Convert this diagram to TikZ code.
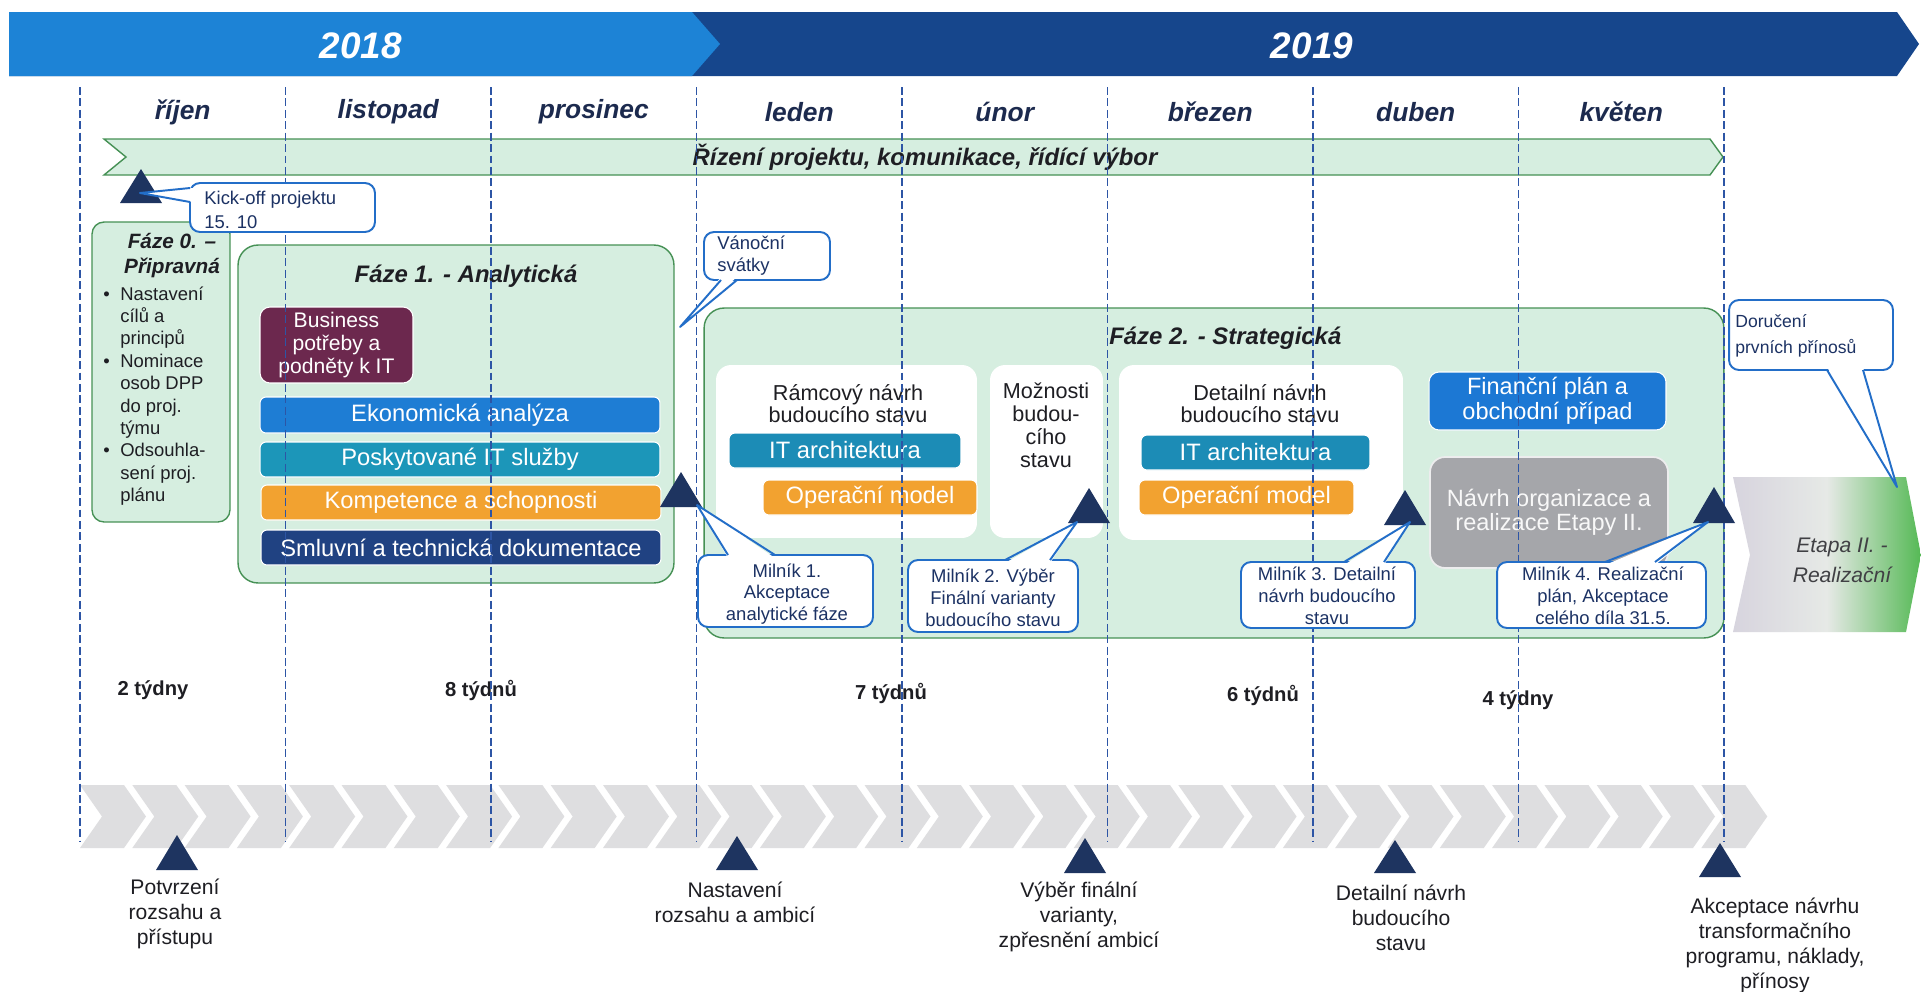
\documentclass[tikz,border=0pt]{standalone}
\usepackage{fontspec}
\setmainfont{Liberation Sans}
\usetikzlibrary{calc}
\definecolor{yearlight}{RGB}{29,131,214}
\definecolor{yeardark}{RGB}{22,70,140}
\definecolor{navy}{RGB}{30,52,96}
\definecolor{monthc}{RGB}{28,42,78}
\definecolor{dashc}{RGB}{45,85,165}
\definecolor{mint}{RGB}{214,238,224}
\definecolor{mintedge}{RGB}{70,145,85}
\definecolor{callblue}{RGB}{35,110,200}
\definecolor{calltext}{RGB}{28,50,100}
\definecolor{ekon}{RGB}{30,125,212}
\definecolor{posk}{RGB}{28,150,185}
\definecolor{komp}{RGB}{242,162,48}
\definecolor{smlu}{RGB}{32,66,130}
\definecolor{busi}{RGB}{108,40,78}
\definecolor{itarch}{RGB}{28,140,182}
\definecolor{fin}{RGB}{28,120,212}
\definecolor{org}{RGB}{165,166,170}
\definecolor{chev}{RGB}{222,222,224}
\definecolor{txt}{RGB}{30,30,35}
\definecolor{etgreen}{RGB}{85,185,85}
\definecolor{etgray}{RGB}{215,212,222}
\definecolor{etmid}{RGB}{230,233,230}
\newcommand\mstri[4]{%
  \fill[tri] (#2-21,#3) -- (#2,#3-#4) -- (#2+21,#3) -- cycle;
  \coordinate (#1) at (#2,#3-#4/2);}
\begin{document}
\begin{tikzpicture}[x=0.02cm,y=-0.02cm,
  yeartxt/.style={text=white, font=\fontsize{21}{25}\selectfont\bfseries\itshape, inner sep=0},
  monthtxt/.style={text=monthc, font=\fontsize{15}{18}\selectfont\bfseries\itshape, inner sep=0},
  dashline/.style={draw=dashc, line width=0.6pt, dash pattern=on 4.5pt off 2pt},
  tri/.style={fill=navy},
  phasebox/.style={draw=mintedge, fill=mint, line width=0.8pt, inner sep=0},
  whitebox/.style={fill=white, rounded corners=0.3cm, inner sep=0},
  bar/.style={draw=white, line width=0.6pt, rounded corners=0.12cm, text=white, font=\fontsize{13.5}{16}\selectfont, inner sep=0},
  callbox/.style={draw=callblue, fill=white, line width=1.1pt, rounded corners=0.2cm, inner sep=0, outer sep=0},
  callline/.style={draw=callblue, line width=1.1pt, line join=round},
  calltxt/.style={text=calltext, font=\fontsize{10.5}{12.4}\selectfont, inner sep=0, align=center},
  titletxt/.style={text=txt, font=\fontsize{13.6}{16}\selectfont\bfseries\itshape, inner sep=0},
  weektxt/.style={text=txt, font=\fontsize{11.5}{14}\selectfont\bfseries, inner sep=0},
  bottxt/.style={text=txt, font=\fontsize{12}{14.2}\selectfont, inner sep=0, align=center},
  boxtxt/.style={text=txt, font=\fontsize{12.3}{12.6}\selectfont, inner sep=0, align=center}]
\useasboundingbox (0,0) rectangle (1921,991);
\fill[white] (0,0) rectangle (1921,991);

% year bar
\fill[yeardark] (9,12) -- (1897,12) -- (1919,44) -- (1897,76) -- (9,76) -- cycle;
\fill[yearlight] (9,12) -- (692,12) -- (720,44) -- (692,76) -- (9,76) -- cycle;
\node[yeartxt] (y2018) at (361,46) {2018};
\node[yeartxt] (y2019) at (1312,46) {2019};

% months
\foreach \name [count=\i from 0] in {říjen,listopad,prosinec,leden,únor,březen,duben,květen}
  \node[monthtxt] (mon\i) at ({182.75+205.5*\i},112) {\name};

% project management bar
\draw[draw=mintedge, fill=mint, line width=0.8pt] (104,139) -- (1710,139) -- (1723,157) -- (1710,175) -- (104,175) -- (126,157) -- cycle;
\node[titletxt] (ctrl) at (925,157) {Řízení projektu, komunikace, řídící výbor};

% Faze 0
\node[phasebox, rounded corners=0.24cm, minimum width=2.76cm, minimum height=6cm] (f0) at (161,372) {};
\node[text=txt, font=\fontsize{11.8}{14.2}\selectfont\bfseries\itshape, align=center, inner sep=0] (f0t) at (172,256) {Fáze 0. –\\Připravná};
\node[anchor=north west, inner sep=0, text=txt, font=\fontsize{10.5}{12.76}\selectfont] (f0l) at (103,284)
 {\begin{tabular}[t]{@{}l@{\hspace{6pt}}l@{}}\textbullet & Nastavení\\ & cílů a\\ & principů\\ \textbullet & Nominace\\ & osob DPP\\ & do proj.\\ & týmu\\ \textbullet & Odsouhla-\\ & sení proj.\\ & plánu\end{tabular}};

% Faze 1
\node[phasebox, rounded corners=0.4cm, minimum width=8.72cm, minimum height=6.76cm] (f1) at (456,414) {};
\node[titletxt] (f1t) at (466,276) {Fáze 1. - Analytická};
\node[bar, fill=busi, rounded corners=0.2cm, minimum width=3.06cm, minimum height=1.52cm, font=\fontsize{12}{13.3}\selectfont, align=center] (busi) at (336.5,345) {Business\\potřeby a\\podněty k IT};
\node[bar, fill=ekon, minimum width=8cm, minimum height=0.72cm] (ekon) at (460,415) {Ekonomická analýza};
\node[bar, fill=posk, minimum width=8cm, minimum height=0.70cm] (posk) at (460,459.5) {Poskytované IT služby};
\node[bar, fill=komp, minimum width=8cm, minimum height=0.70cm] (komp) at (461,502.5) {Kompetence a schopnosti};
\node[bar, fill=smlu, minimum width=8cm, minimum height=0.70cm] (smlu) at (461,547.5) {Smluvní a technická dokumentace};

% Faze 2
\node[phasebox, rounded corners=0.4cm, minimum width=20.4cm, minimum height=6.6cm] (f2) at (1214,473) {};
\node[titletxt, anchor=west] (f2t) at (1109,338) {Fáze 2. - Strategická};
\node[whitebox, minimum width=5.22cm, minimum height=3.46cm] (ram) at (846.5,451.5) {};
\node[boxtxt] (ramt) at (848,404) {Rámcový návrh\\budoucího stavu};
\node[bar, fill=itarch, minimum width=4.64cm, minimum height=0.70cm] (it1) at (845,450.5) {IT architektura};
\node[bar, fill=komp, minimum width=4.28cm, minimum height=0.70cm] (op1) at (870,497.5) {Operační model};
\node[whitebox, minimum width=2.26cm, minimum height=3.46cm] (moz) at (1046.5,451.5) {};
\node[boxtxt, font=\fontsize{12.3}{13}\selectfont] (mozt) at (1046,425) {Možnosti\\budou-\\cího\\stavu};
\node[whitebox, minimum width=5.68cm, minimum height=3.5cm] (det) at (1261,452.5) {};
\node[boxtxt] (dett) at (1260,404) {Detailní návrh\\budoucího stavu};
\node[bar, fill=itarch, minimum width=4.58cm, minimum height=0.70cm] (it2) at (1255.5,452.5) {IT architektura};
\node[bar, fill=komp, minimum width=4.3cm, minimum height=0.70cm] (op2) at (1246.5,497.5) {Operační model};
\node[bar, fill=fin, rounded corners=0.2cm, minimum width=4.74cm, minimum height=1.16cm, font=\fontsize{13.4}{14.2}\selectfont, align=center] (fin) at (1547.5,401) {Finanční plán a\\obchodní případ};
\node[bar, fill=org, draw=white!80!org, line width=1pt, rounded corners=0.3cm, minimum width=4.76cm, minimum height=2.22cm, text=white!92!org, font=\fontsize{13.4}{12.2}\selectfont, align=center] (org) at (1549,512.5) {Návrh organizace a\\realizace Etapy II.};

% Etapa II
\shade[left color=etgray, right color=etgreen, middle color=etmid] (1733,477) -- (1906,477) -- (1921,555) -- (1906,632) -- (1733,632) -- (1750,555) -- cycle;
\node[text=txt!85, font=\fontsize{12}{17}\selectfont\itshape, align=center, inner sep=0] (etapa) at (1842,560) {Etapa II. -\\Realizační};

% chevron band
\foreach \i in {0,...,31}
  \fill[chev] ({80+52.3*\i},785) -- ++(44,0) -- ++(22,31.5) -- ++(-22,31.5) -- ++(-44,0) -- ++(22,-31.5) -- cycle;

% week labels
\node[weektxt] (w1) at (153,690) {2 týdny};
\node[weektxt] (w2) at (481,690) {8 týdnů};
\node[weektxt] (w3) at (891,693) {7 týdnů};
\node[weektxt] (w4) at (1263,695) {6 týdnů};
\node[weektxt] (w5) at (1518,700) {4 týdny};

% dashed month lines
\foreach \i in {0,...,8}
  \draw[dashline] ({80+205.5*\i},87) -- ({80+205.5*\i},842);

% milestone triangles
\mstri{tko}{141}{203}{34}
\mstri{tm1}{681}{507}{35}
\mstri{tm2}{1089}{523}{35}
\mstri{tm3}{1405}{525}{35}
\mstri{tm4}{1714}{523}{36}
\mstri{tb1}{177}{870}{35}
\mstri{tb2}{737}{870}{34}
\mstri{tb3}{1085}{873}{35}
\mstri{tb4}{1395}{873}{33}
\mstri{tb5}{1720}{877}{34}

% bottom labels
\node[bottxt] (b1) at (175,914) {Potvrzení\\rozsahu a\\přístupu};
\node[bottxt] (b2) at (735,902) {Nastavení\\rozsahu a ambicí};
\node[bottxt] (b3) at (1079,917) {Výběr finální\\varianty,\\zpřesnění ambicí};
\node[bottxt] (b4) at (1401,918) {Detailní návrh\\budoucího\\stavu};
\node[bottxt] (b5) at (1775,945) {Akceptace návrhu\\transformačního\\programu, náklady,\\přínosy};

% callout tips
\coordinate (pko) at (140,193);
\coordinate (pva) at (680,327);
\coordinate (pm1) at (697,505);
\coordinate (pm2) at (1077,522);
\coordinate (pm3) at (1410,522);
\coordinate (pm4) at (1708,522);
\coordinate (pdo) at (1897,487);

% kick-off
\node[callbox, minimum width=3.7cm, minimum height=0.98cm] (ko) at (282.5,207.5) {};
\fill[white] ($(ko.north west)+(3,5)$) -- (pko) -- ($(ko.north west)+(3,19)$) -- cycle;
\draw[callline] ($(ko.north west)+(0,5)$) -- (pko) -- ($(ko.north west)+(0,19)$);
\node[calltxt, align=left, anchor=west, font=\fontsize{10.5}{13.6}\selectfont] (kot) at (204,210) {Kick-off projektu\\15. 10};

% vanocni svatky
\node[callbox, minimum width=2.52cm, minimum height=0.96cm] (va) at (767,256) {};
\fill[white] ($(va.south west)+(17,-3)$) -- (pva) -- ($(va.south west)+(33,-3)$) -- cycle;
\draw[callline] ($(va.south west)+(17,0)$) -- (pva) -- ($(va.south west)+(33,0)$);
\node[calltxt, align=left, anchor=west] (vat) at (717,256) {Vánoční\\svátky};

% milnik 1
\node[callbox, minimum width=3.5cm, minimum height=1.44cm] (m1) at (785.5,591) {};
\fill[white] ($(m1.north west)+(30,3)$) -- (pm1) -- ($(m1.north west)+(77,3)$) -- cycle;
\draw[callline] ($(m1.north west)+(30,0)$) -- (pm1) -- ($(m1.north west)+(77,0)$);
\node[calltxt] (m1t) at (787,594) {Milník 1.\\Akceptace\\analytické fáze};

% milnik 2
\node[callbox, minimum width=3.4cm, minimum height=1.44cm] (m2) at (993,596) {};
\fill[white] ($(m2.north west)+(97,3)$) -- (pm2) -- ($(m2.north west)+(142,3)$) -- cycle;
\draw[callline] ($(m2.north west)+(97,0)$) -- (pm2) -- ($(m2.north west)+(142,0)$);
\node[calltxt] (m2t) at (993,598) {Milník 2. Výběr\\Finální varianty\\budoucího stavu};

% milnik 3
\node[callbox, minimum width=3.48cm, minimum height=1.32cm] (m3) at (1328,595) {};
\fill[white] ($(m3.north west)+(103,3)$) -- (pm3) -- ($(m3.north west)+(143,3)$) -- cycle;
\draw[callline] ($(m3.north west)+(103,0)$) -- (pm3) -- ($(m3.north west)+(143,0)$);
\node[calltxt] (m3t) at (1327,596) {Milník 3. Detailní\\návrh budoucího\\stavu};

% milnik 4
\node[callbox, minimum width=4.18cm, minimum height=1.32cm] (m4) at (1601.5,595) {};
\fill[white] ($(m4.north west)+(108,3)$) -- (pm4) -- ($(m4.north west)+(158,3)$) -- cycle;
\draw[callline] ($(m4.north west)+(108,0)$) -- (pm4) -- ($(m4.north west)+(158,0)$);
\node[calltxt] (m4t) at (1603,596) {Milník 4. Realizační\\plán, Akceptace\\celého díla 31.5.};

% doruceni
\node[callbox, minimum width=3.28cm, minimum height=1.4cm] (dor) at (1811,335) {};
\fill[white] ($(dor.south west)+(98,-3)$) -- (pdo) -- ($(dor.south west)+(134,-3)$) -- cycle;
\draw[callline] ($(dor.south west)+(98,0)$) -- (pdo) -- ($(dor.south west)+(134,0)$);
\node[calltxt, align=left, anchor=west, font=\fontsize{10}{14.5}\selectfont] (dort) at (1735,336) {Doručení\\prvních přínosů};
\end{tikzpicture}
\end{document}
